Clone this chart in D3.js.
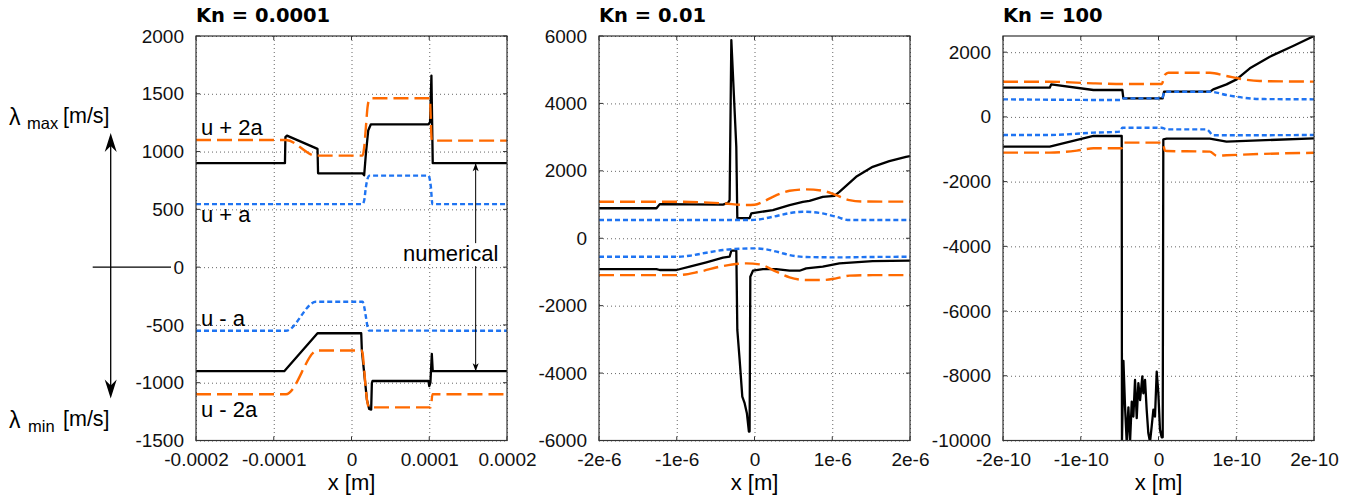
<!DOCTYPE html>
<html>
<head>
<meta charset="utf-8">
<script src="https://cdn.jsdelivr.net/npm/d3@7"></script>
<style>
body { margin: 0; background: #fff; }
svg { display: block; font-family: "Liberation Sans", Arial, Helvetica, sans-serif; }
.grid line { stroke: #666; stroke-width: 1; stroke-dasharray: 1,3; }
.grid .domain { display: none; }
.title { font-family: "DejaVu Sans", Verdana, sans-serif; font-weight: bold; font-size: 19.5px; }
.axis-label { font-size: 22px; }
.note { font-size: 22px; }
</style>
</head>
<body>
<svg width="1346" height="496"></svg>
<script>
// ---- data (x in units of xUnits[i], y in m/s) ----
var titles = ['Kn = 0.0001', 'Kn = 0.01', 'Kn = 100'];
var xUnits = [1e-4, 1e-6, 1e-10];
var xTicks = [-2, -1, 0, 1, 2];
var xTickLabels = [
    ['-0.0002', '-0.0001', '0', '0.0001', '0.0002'],
    ['-2e-6', '-1e-6', '0', '1e-6', '2e-6'],
    ['-2e-10', '-1e-10', '0', '1e-10', '2e-10']
];
var yDomains = [[-1500, 2000], [-6000, 6000], [-10000, 2500]];
var yTickValues = [
    [-1500, -1000, -500, 0, 500, 1000, 1500, 2000],
    [-6000, -4000, -2000, 0, 2000, 4000, 6000],
    [-10000, -8000, -6000, -4000, -2000, 0, 2000]
];

// Kn = 0.0001
var kn1Max = [[-2,900],[-0.856,900],[-0.85,1125],[-0.83,1138],[-0.437,1023],[-0.43,812],[0.142,812],[0.163,795],[0.185,980],[0.215,1182],[0.249,1236],[0.99,1236],[1.01,1253],[1.028,1657],[1.045,900],[2,900]];
var kn1Min = [[-2,-900],[-0.865,-900],[-0.437,-572],[0.125,-572],[0.133,-716],[0.15,-830],[0.172,-974],[0.198,-1147],[0.227,-1227],[0.253,-1233],[0.262,-1003],[0.27,-985],[0.99,-985],[1.0,-1030],[1.015,-1000],[1.033,-750],[1.045,-900],[2,-900]];
var kn1Up2a = [[-2,1100],[-0.843,1100],[-0.458,965],[0.142,965],[0.163,1037],[0.185,1210],[0.206,1383],[0.227,1447],[0.262,1461],[1.007,1461],[1.033,1095],[2,1095]];
var kn1Um2a = [[-2,-1100],[-0.843,-1100],[-0.437,-721],[0.125,-721],[0.142,-743],[0.163,-888],[0.185,-1060],[0.206,-1175],[0.227,-1213],[1.02,-1213],[1.041,-1100],[2,-1100]];
var kn1Upa = [[-2,545],[0.142,545],[0.163,576],[0.185,691],[0.206,764],[0.233,792],[0.99,792],[1.02,700],[1.041,545],[2,545]];
var kn1Uma = [[-2,-550],[-0.843,-550],[-0.458,-300],[0.142,-300],[0.163,-343],[0.185,-429],[0.206,-515],[0.227,-549],[2,-550]];

// Kn = 0.01
var kn2Max = [[-2,890],[-1.261,890],[-1.218,1013],[-0.406,1000],[-0.34,1050],[-0.32,1130],[-0.298,5880],[-0.234,2710],[-0.221,600],[-0.063,600],[-0.041,737],[0.236,836],[0.451,984],[0.622,1081],[0.707,1111],[0.878,1230],[1.028,1260],[1.092,1378],[1.307,1822],[1.52,2119],[1.734,2287],[1.949,2415],[2,2440]];
var kn2Min = [[-2,-913],[-1.261,-913],[-1.218,-942],[-1.004,-942],[-0.833,-843],[-0.619,-715],[-0.405,-577],[-0.32,-548],[-0.298,-370],[-0.234,-370],[-0.221,-2720],[-0.191,-3610],[-0.157,-4696],[-0.127,-4893],[-0.098,-5190],[-0.072,-5733],[-0.063,-5733],[-0.054,-1140],[-0.02,-963],[0.108,-913],[0.28,-913],[0.451,-963],[0.579,-963],[0.665,-893],[0.878,-843],[1.092,-745],[1.52,-676],[2,-665]];
var kn2Up2a = [[-2,1085],[-1,1085],[-0.405,1035],[-0.1,985],[0,993],[0.108,1081],[0.236,1230],[0.451,1408],[0.665,1449],[0.878,1408],[1.05,1280],[1.22,1132],[1.4,1090],[2,1085]];
var kn2Um2a = [[-2,-1095],[-1,-1095],[-0.705,-991],[-0.405,-823],[-0.105,-745],[0.065,-775],[0.28,-991],[0.451,-1160],[0.665,-1240],[0.878,-1240],[1.05,-1190],[1.22,-1110],[1.52,-1095],[2,-1095]];
var kn2Upa = [[-2,540],[-0.1,540],[0,545],[0.236,637],[0.451,746],[0.622,786],[0.878,737],[1.05,637],[1.22,540],[2,540]];
var kn2Uma = [[-2,-550],[-1,-550],[-0.833,-518],[-0.619,-429],[-0.405,-350],[-0.191,-311],[0,-300],[0.151,-330],[0.322,-420],[0.451,-498],[0.665,-557],[1.09,-567],[1.52,-555],[2,-550]];

// Kn = 100
var kn3Max = [[-2,903],[-1.399,903],[-1.38,1006],[-0.837,831],[-0.465,831],[-0.452,574],[0.054,574],[0.071,779],[0.661,779],[0.704,851],[0.875,1006],[1.004,1160],[1.175,1500],[1.432,1860],[1.731,2190],[2,2500]];
var kn3Min = [[-2,-919],[-1.399,-919],[-0.837,-590],[-0.473,-590],[-0.47,-10050],[-0.451,-7540],[-0.43,-8975],[-0.409,-10050],[-0.387,-8975],[-0.366,-10050],[-0.344,-8800],[-0.323,-9260],[-0.302,-8130],[-0.28,-9310],[-0.259,-8230],[-0.237,-8750],[-0.208,-8020],[-0.195,-8540],[-0.173,-8130],[-0.152,-9050],[-0.131,-9770],[-0.109,-10050],[-0.088,-9570],[-0.066,-9050],[-0.045,-9260],[-0.023,-7870],[-0.002,-8540],[0.019,-9670],[0.041,-9900],[0.054,-9900],[0.062,-693],[0.105,-672],[0.661,-672],[0.875,-765],[2,-662]];
var kn3Up2a = [[-2,1088],[-1.399,1088],[-0.837,1037],[-0.408,1016],[0.041,1016],[0.083,1300],[0.126,1366],[0.661,1366],[0.875,1263],[1.089,1160],[1.303,1109],[2,1090]];
var kn3Um2a = [[-2,-1105],[-1.399,-1105],[-1.05,-1043],[-0.837,-971],[-0.473,-971],[-0.452,-796],[0.054,-796],[0.083,-1043],[0.105,-1053],[0.661,-1074],[0.747,-1197],[0.875,-1187],[1.303,-1146],[2,-1110]];
var kn3Upa = [[-2,543],[-0.494,522],[-0.465,574],[0.041,574],[0.083,779],[0.661,779],[0.875,676],[1.089,594],[1.303,553],[2,543]];
var kn3Uma = [[-2,-559],[-1.399,-559],[-0.837,-487],[-0.494,-456],[-0.465,-333],[0.041,-333],[0.105,-384],[0.619,-384],[0.704,-569],[2,-559]];

var numMax = [kn1Max, kn2Max, kn3Max];
var numMin = [kn1Min, kn2Min, kn3Min];
var up2a = [kn1Up2a, kn2Up2a, kn3Up2a];
var um2a = [kn1Um2a, kn2Um2a, kn3Um2a];
var upa = [kn1Upa, kn2Upa, kn3Upa];
var uma = [kn1Uma, kn2Uma, kn3Uma];

// ---- layout ----
var svg = d3.select('svg');
var panelLeft = [196, 599, 1003];
var panelTop = 36, panelW = 311, panelH = 404.5;

var styles = {
    num: { stroke: '#000', width: 2.3, dash: null, curve: d3.curveLinear },
    a2: { stroke: '#ff6a00', width: 2.4, dash: '15,6', curve: d3.curveMonotoneX },
    a1: { stroke: '#1f74f2', width: 2.4, dash: '5,3', curve: d3.curveMonotoneX }
};

var scales = [];

titles.forEach(function (title, i) {
    var unit = xUnits[i];
    var g = svg.append('g').attr('transform', `translate(${panelLeft[i]},${panelTop})`);
    var x = d3.scaleLinear().domain([-2 * unit, 2 * unit]).range([0, panelW]);
    var y = d3.scaleLinear().domain(yDomains[i]).range([panelH, 0]);
    scales.push({ g: g, x: x, y: y });
    var xt = xTicks.map(d => d * unit);

    // grid
    g.append('g').attr('class', 'grid')
        .call(d3.axisBottom(x).tickValues(xt).tickSize(panelH).tickFormat(''));
    g.append('g').attr('class', 'grid')
        .call(d3.axisLeft(y).tickValues(yTickValues[i]).tickSize(-panelW).tickFormat(''));

    // clip
    g.append('clipPath').attr('id', 'clip' + i)
        .append('rect').attr('width', panelW).attr('height', panelH);

    var lines = [
        { data: numMax[i], s: styles.num },
        { data: numMin[i], s: styles.num },
        { data: up2a[i], s: styles.a2 },
        { data: um2a[i], s: styles.a2 },
        { data: upa[i], s: styles.a1 },
        { data: uma[i], s: styles.a1 }
    ];
    var plot = g.append('g').attr('clip-path', `url(#clip${i})`);
    lines.forEach(function (l) {
        var line = d3.line().x(d => x(d[0] * unit)).y(d => y(d[1])).curve(l.s.curve);
        plot.append('path')
            .attr('d', line(l.data))
            .attr('fill', 'none')
            .attr('stroke', l.s.stroke)
            .attr('stroke-width', l.s.width)
            .attr('stroke-dasharray', l.s.dash)
            .attr('stroke-linejoin', 'round');
    });

    // frame + inward ticks
    g.append('rect').attr('width', panelW).attr('height', panelH)
        .attr('fill', 'none').attr('stroke', '#333').attr('stroke-width', 1.2);
    xt.forEach(function (v) {
        g.append('line').attr('x1', x(v)).attr('x2', x(v)).attr('y1', panelH).attr('y2', panelH - 4).attr('stroke', '#333');
        g.append('line').attr('x1', x(v)).attr('x2', x(v)).attr('y1', 0).attr('y2', 4).attr('stroke', '#333');
    });
    yTickValues[i].forEach(function (v) {
        g.append('line').attr('y1', y(v)).attr('y2', y(v)).attr('x1', 0).attr('x2', 4).attr('stroke', '#333');
        g.append('line').attr('y1', y(v)).attr('y2', y(v)).attr('x1', panelW).attr('x2', panelW - 4).attr('stroke', '#333');
    });

    // tick labels (plain hyphen for minus, as in the source figure)
    var xa = g.append('g').attr('transform', `translate(0,${panelH})`)
        .call(d3.axisBottom(x).tickValues(xt).tickSize(0).tickPadding(12)
            .tickFormat((d, k) => xTickLabels[i][k]));
    var ya = g.append('g')
        .call(d3.axisLeft(y).tickValues(yTickValues[i]).tickSize(0).tickPadding(12)
            .tickFormat(d => String(d)));
    [xa, ya].forEach(function (a) {
        a.select('.domain').remove();
        a.attr('font-size', 19).attr('font-family', null);
        a.selectAll('text').attr('fill', '#111');
    });

    g.append('text').attr('class', 'title').attr('x', 0).attr('y', -14).text(title);
    g.append('text').attr('class', 'axis-label').attr('x', panelW / 2).attr('y', panelH + 49.5)
        .attr('text-anchor', 'middle').text('x [m]');
});

// ---- annotations on the first panel ----
function arrowHead(px, py, dir, len, half, notch) {
    // dir = -1 points up, +1 points down
    var b = py - dir * len, n = py - dir * (len - notch);
    return `M${px},${py}L${px - half},${b}L${px},${n}L${px + half},${b}Z`;
}

var p1 = scales[0];
var notes = [
    { text: 'u + 2a', v: 1145 },
    { text: 'u + a', v: 390 },
    { text: 'u - a', v: -505 },
    { text: 'u - 2a', v: -1300 }
];
notes.forEach(function (n) {
    p1.g.append('text').attr('class', 'note')
        .attr('x', 5).attr('y', p1.y(n.v)).text(n.text);
});

var numX = p1.x(1.597e-4);
p1.g.append('text').attr('class', 'note')
    .attr('x', numX - 25).attr('y', p1.y(0) - 6).attr('text-anchor', 'middle').text('numerical');
p1.g.append('line').attr('x1', numX).attr('x2', numX)
    .attr('y1', p1.y(900)).attr('y2', p1.y(0) - 24).attr('stroke', '#000');
p1.g.append('line').attr('x1', numX).attr('x2', numX)
    .attr('y1', p1.y(0) - 1).attr('y2', p1.y(-900)).attr('stroke', '#000');
p1.g.append('path').attr('d', arrowHead(numX, p1.y(900), -1, 8, 3, 2)).attr('fill', '#000');
p1.g.append('path').attr('d', arrowHead(numX, p1.y(-900), 1, 8, 3, 2)).attr('fill', '#000');

// lambda axis at the far left
var left = svg.append('g');
var ax = 110.7, y0 = panelTop + p1.y(0);
left.append('line').attr('x1', ax).attr('x2', ax).attr('y1', 140).attr('y2', 392)
    .attr('stroke', '#000').attr('stroke-width', 1.3);
left.append('path').attr('d', arrowHead(ax, 133, -1, 19, 6, 6)).attr('fill', '#000');
left.append('path').attr('d', arrowHead(ax, 398.5, 1, 19, 6, 6)).attr('fill', '#000');
left.append('line').attr('x1', 92.7).attr('x2', 171).attr('y1', y0).attr('y2', y0)
    .attr('stroke', '#000').attr('stroke-width', 1.3);

function lambdaLabel(yBase, sub, subX) {
    left.append('text').attr('x', 9).attr('y', yBase + 2).attr('font-size', 23).text('λ');
    left.append('text').attr('x', subX).attr('y', yBase + 6).attr('font-size', 16.5).text(sub);
    left.append('text').attr('x', 63).attr('y', yBase).attr('font-size', 21.5).text('[m/s]');
}
lambdaLabel(123, 'max', 27);
lambdaLabel(426, 'min', 28);
</script>
</body>
</html>
